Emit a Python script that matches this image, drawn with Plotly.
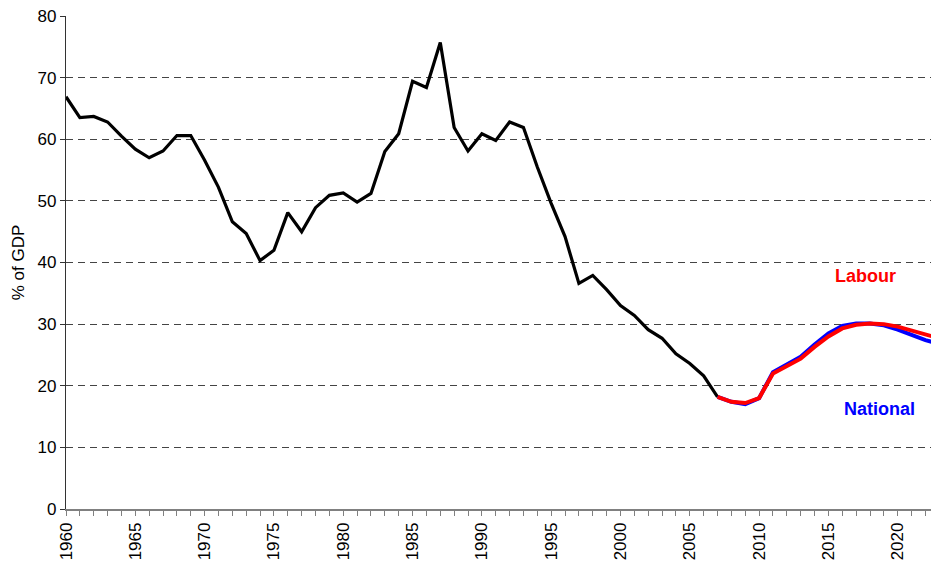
import plotly.graph_objects as go

years_hist = list(range(1960, 2008))
debt_hist = [66.9, 63.5, 63.7, 62.8, 60.5, 58.4, 57.0, 58.1, 60.6, 60.6,
             56.6, 52.2, 46.6, 44.7, 40.3, 42.0, 48.1, 45.0, 48.9, 50.9,
             51.3, 49.8, 51.2, 58.0, 60.9, 69.4, 68.4, 75.7, 61.9, 58.1,
             60.9, 59.8, 62.8, 61.9, 55.5, 49.6, 44.2, 36.6, 37.9, 35.6,
             33.0, 31.4, 29.1, 27.7, 25.2, 23.6, 21.6, 18.2]

years_proj = list(range(2007, 2024))
national = [18.2, 17.4, 17.0, 18.0, 22.2, 23.4, 24.7, 26.7, 28.5, 29.7,
            30.1, 30.1, 29.8, 29.1, 28.3, 27.4, 26.8]
labour = [18.2, 17.4, 17.2, 18.0, 22.0, 23.2, 24.4, 26.3, 28.0, 29.3,
          29.9, 30.1, 30.0, 29.6, 29.0, 28.3, 27.7]

y_ticks = [0, 10, 20, 30, 40, 50, 60, 70, 80]
x_ticks = list(range(1960, 2025, 5))

fig = go.Figure()
fig.add_trace(go.Scatter(x=years_hist, y=debt_hist, mode="lines",
                         line=dict(color="black", width=3.2), showlegend=False))
fig.add_trace(go.Scatter(x=years_proj, y=national, mode="lines",
                         line=dict(color="#0000ff", width=4), showlegend=False))
fig.add_trace(go.Scatter(x=years_proj, y=labour, mode="lines",
                         line=dict(color="#ff0000", width=4), showlegend=False))

fig.add_annotation(x=2017.7, y=37.8, text="<b>Labour</b>", showarrow=False,
                   font=dict(family="Arial, Liberation Sans", size=18, color="#ff0000"))
fig.add_annotation(x=2018.65, y=16.3, text="<b>National</b>", showarrow=False,
                   font=dict(family="Arial, Liberation Sans", size=18, color="#0000ff"))

fig.update_layout(
    width=931, height=569,
    margin=dict(l=66, r=0, t=16, b=60),
    plot_bgcolor="white", paper_bgcolor="white",
    font=dict(family="Arial, Liberation Sans", size=17, color="black"),
    xaxis=dict(range=[1960, 2022.4], tickvals=x_ticks, tickangle=-90,
               automargin=False,
               showgrid=False, zeroline=False, showline=True,
               linecolor="#808080", linewidth=1.5,
               ticks="outside", ticklen=5, tickcolor="#808080",
               tickfont=dict(size=17),
               minor=dict(dtick=1, tick0=1960, ticks="outside", ticklen=5,
                          tickcolor="#808080", showgrid=False)),
    yaxis=dict(range=[0, 80], tickvals=y_ticks, showgrid=True, automargin=False,
               gridcolor="#444444", gridwidth=1, griddash="7px,5px",
               zeroline=False, showline=True, linecolor="#333333", linewidth=1.2,
               ticks="outside", ticklen=5, tickcolor="#333333",
               tickfont=dict(size=17),
               title=dict(text="% of GDP", font=dict(size=17), standoff=8)),
)

fig.write_html(
    "out.html",
    config={"displayModeBar": False},
    post_script="document.documentElement.style.margin='0';"
                "document.body.style.margin='0';"
                "document.body.style.padding='0';"
                "document.body.style.overflow='hidden';",
)
